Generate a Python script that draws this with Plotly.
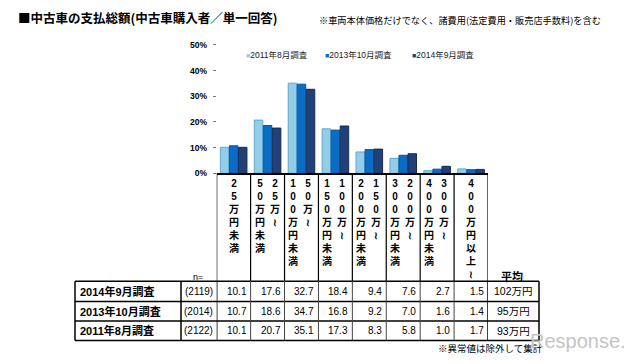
import plotly.graph_objects as go

# ---------------- data ----------------
categories = ["25万円未満", "25万～50万円未満", "50万～100万円未満", "100万～150万円未満",
              "150万～200万円未満", "200万～300万円未満", "300万～400万円未満", "400万円以上～"]
surveys = ["2011年8月調査", "2013年10月調査", "2014年9月調査"]
vals_2011 = [10.1, 20.7, 35.1, 17.3, 8.3, 5.8, 1.0, 1.7]
vals_2013 = [10.7, 18.6, 34.7, 16.8, 9.2, 7.0, 1.6, 1.4]
vals_2014 = [10.1, 17.6, 32.7, 18.4, 9.4, 7.6, 2.7, 1.5]
sample_n = [2122, 2014, 2119]
avg_price = ["93万円", "95万円", "102万円"]
y_tick_vals = [0, 10, 20, 30, 40, 50]
y_tick_text = ["0%", "10%", "20%", "30%", "40%", "50%"]

title_text = "■中古車の支払総額(中古車購入者／単一回答)"
note_text = "※車両本体価格だけでなく、諸費用(法定費用・販売店手数料)を含む"
footer_text = "※異常値は除外して集計"

# ---------------- styles / layout ----------------
W, H = 640, 364
FONT = "Liberation Sans, Noto Sans CJK JP, sans-serif"
CJK = "Noto Sans CJK JP, sans-serif"
fills = ["#93CDE6", "#0A6CC4", "#223F78"]
edges = ["#5FA9D2", "#0556A0", "#162C58"]

X0, X1 = 216.7, 488.0          # plot area (px)
Y_ZERO, Y_TOP = 173.0, 41.0
T_LEFT, LBL_RIGHT, T_RIGHT = 75.0, 181.0, 539.0
ROW_LINES = [284.0, 305.0, 325.0, 345.0]


def px(x):
    return x / W


def py(y):
    return 1 - y / H


series = [vals_2011, vals_2013, vals_2014]

fig = go.Figure()
for name, vals, fc, ec in zip(surveys, series, fills, edges):
    fig.add_bar(x=categories, y=vals, name=name, showlegend=False,
                marker=dict(color=fc, line=dict(color=ec, width=1)))

annotations = []
shapes = []


def text_ann(x, y, text, size, xanchor="center", yanchor="middle", bold=False,
             color="black", family=FONT):
    annotations.append(dict(xref="paper", yref="paper", x=px(x), y=py(y), text=text,
                            showarrow=False, xanchor=xanchor, yanchor=yanchor,
                            font=dict(size=size, color=color, family=family,
                                      weight="bold" if bold else "normal")))


# title & notes
text_ann(16, 13, title_text, 12.5, xanchor="left", bold=True, family=CJK)
text_ann(317, 15, note_text, 9.2, xanchor="left", family=CJK)
text_ann(490, 353, footer_text, 9.5, family=CJK)
text_ann(578, 346, "Response.", 20, color="#c4c4c4", family="Liberation Sans")

# legend (manual)
leg_x = [244, 323, 410]
for name, fc, lx in zip(surveys, fills, leg_x):
    text_ann(lx, 51, f"<span style='color:{fc};font-size:7px'>■</span>{name}", 8.5,
             xanchor="left", family=FONT, color="#222")

# vertical category labels
for i, cat in enumerate(categories):
    if "～" in cat and not cat.endswith("～"):
        right, left = cat.split("～")
        parts = [(left, -8), (right + "～", 7)]
    else:
        parts = [(cat, 0)]
    for txt, shift in parts:
        chars = [("≀" if c == "～" else c) for c in txt]
        annotations.append(dict(xref="x", yref="paper", x=i, y=py(175.5), xshift=shift,
                                text="<br>".join(chars), showarrow=False,
                                xanchor="center", yanchor="top",
                                font=dict(size=10, family=FONT, weight="bold", color="black")))

# table header texts
text_ann(198, 280, "n=", 9)
text_ann(512, 279, "平均", 11, bold=True, family=CJK)

# table rows (top: latest survey)
for r, s in enumerate([2, 1, 0]):
    yc = (ROW_LINES[r] + ROW_LINES[r + 1]) / 2
    text_ann(78, yc, surveys[s], 11, xanchor="left", bold=True)
    text_ann((LBL_RIGHT + X0) / 2, yc, f"({sample_n[s]})", 10)
    for i, v in enumerate(series[s]):
        annotations.append(dict(xref="x", yref="paper", x=i + 0.5, y=py(yc), xshift=-2,
                                text=f"{v:.1f}", showarrow=False, xanchor="right",
                                yanchor="middle",
                                font=dict(size=10, family=FONT, color="black")))
    text_ann((X1 + T_RIGHT) / 2, yc, avg_price[s], 10.5)

# table lines
for k, yl in enumerate(ROW_LINES):
    shapes.append(dict(type="line", xref="paper", yref="paper", x0=px(T_LEFT), x1=px(T_RIGHT),
                       y0=py(yl), y1=py(yl), line=dict(color="black", width=1.5)))
for xl in [T_LEFT, LBL_RIGHT, T_RIGHT]:
    shapes.append(dict(type="line", xref="paper", yref="paper", x0=px(xl), x1=px(xl),
                       y0=py(ROW_LINES[0]), y1=py(ROW_LINES[-1]),
                       line=dict(color="black", width=1.5)))
n_cat = len(categories)
for i in range(n_cat + 1):
    xb = i - 0.5
    edge = i in (0, n_cat)
    shapes.append(dict(type="line", xref="x", yref="paper", x0=xb, x1=xb,
                       y0=py(Y_ZERO), y1=py(ROW_LINES[0]),
                       line=dict(color="black", width=1.2)))
    shapes.append(dict(type="line", xref="x", yref="paper", x0=xb, x1=xb,
                       y0=py(ROW_LINES[0]), y1=py(ROW_LINES[-1]),
                       line=dict(color="black" if edge else "#444", width=1.5 if edge else 1)))

fig.update_layout(
    width=W, height=H, autosize=False,
    margin=dict(l=0, r=0, t=0, b=0, pad=0),
    paper_bgcolor="white", plot_bgcolor="white",
    barmode="group", bargap=0.2, bargroupgap=0.06,
    showlegend=False,
    xaxis=dict(domain=[px(X0), px(X1)], range=[-0.5, n_cat - 0.5], showticklabels=False,
               ticks="", showgrid=False, zeroline=False, showline=True,
               linecolor="black", linewidth=2, fixedrange=True),
    yaxis=dict(domain=[py(Y_ZERO), py(Y_TOP)], range=[0, 50], tickvals=y_tick_vals,
               ticktext=y_tick_text, ticks="outside", ticklen=3, tickcolor="#777",
               tickwidth=1, ticklabelstandoff=4, showgrid=False, zeroline=False,
               showline=False, fixedrange=True,
               tickfont=dict(size=8.5, family=FONT, weight="bold", color="black")),
    annotations=annotations,
    shapes=shapes,
    font=dict(family=FONT),
)

fig.write_html("out.html", config={"displayModeBar": False},
               post_script="document.body.style.margin='0px';")
